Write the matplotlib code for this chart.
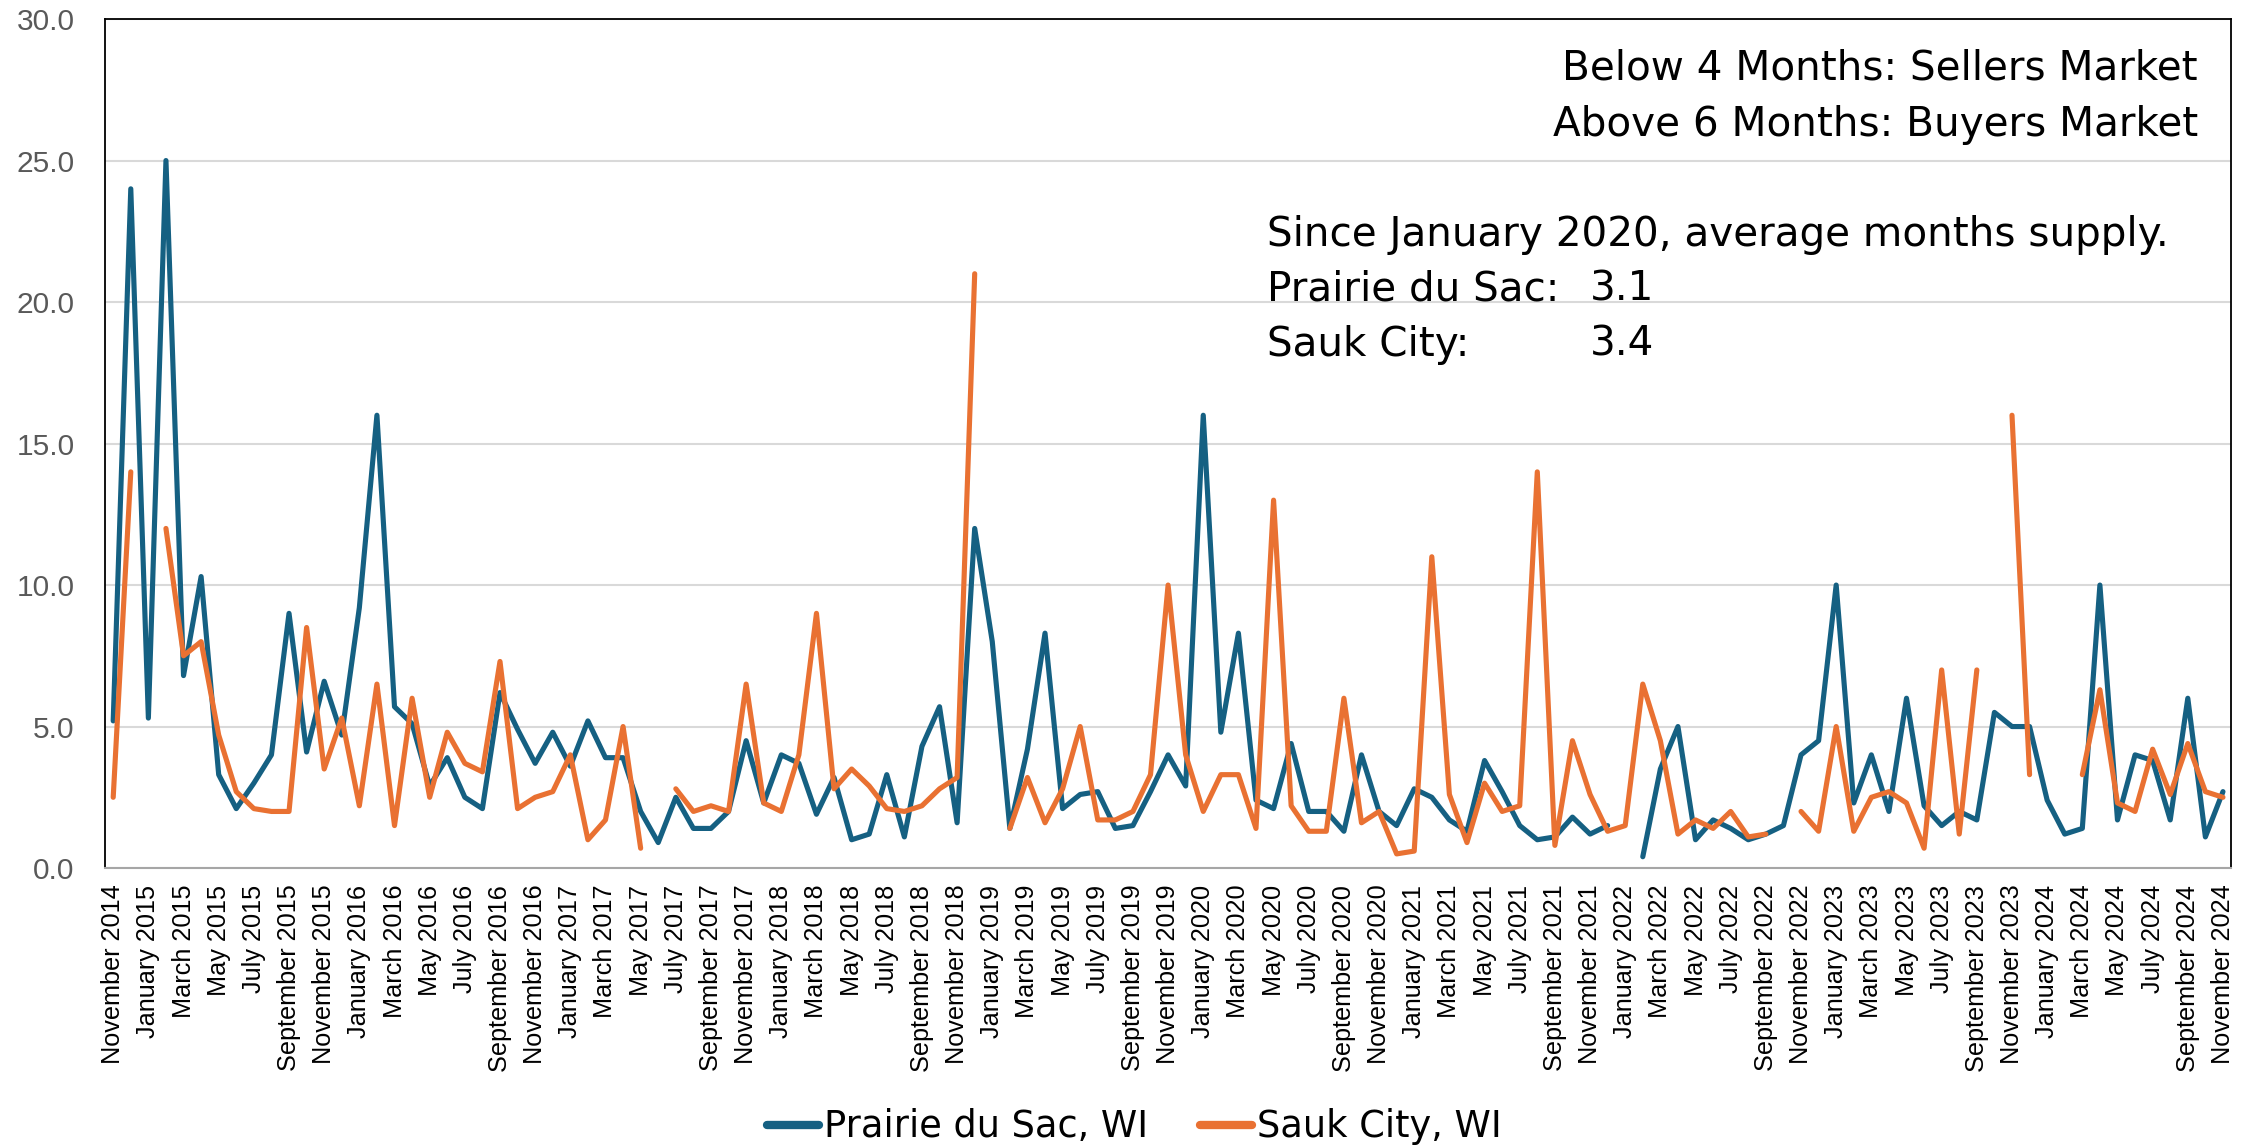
import numpy as np
import pandas as pd
from matplotlib import pyplot as plt

# Months supply, monthly from November 2014 to November 2024 (nan = no data)
months = pd.date_range("2014-11-01", periods=121, freq="MS").strftime("%B %Y").tolist()

prairie_du_sac = [
    5.2, 24.0, 5.3, 25.0, 6.8, 10.3, 3.3, 2.1, 3.0, 4.0,
    9.0, 4.1, 6.6, 4.7, 9.2, 16.0, 5.7, 5.1, 2.9, 3.9,
    2.5, 2.1, 6.2, 4.9, 3.7, 4.8, 3.6, 5.2, 3.9, 3.9,
    2.0, 0.9, 2.5, 1.4, 1.4, 2.0, 4.5, 2.3, 4.0, 3.7,
    1.9, 3.2, 1.0, 1.2, 3.3, 1.1, 4.3, 5.7, 1.6, 12.0,
    8.0, 1.4, 4.2, 8.3, 2.1, 2.6, 2.7, 1.4, 1.5, 2.7,
    4.0, 2.9, 16.0, 4.8, 8.3, 2.4, 2.1, 4.4, 2.0, 2.0,
    1.3, 4.0, 2.0, 1.5, 2.8, 2.5, 1.7, 1.3, 3.8, 2.7,
    1.5, 1.0, 1.1, 1.8, 1.2, 1.5, np.nan, 0.4, 3.5, 5.0,
    1.0, 1.7, 1.4, 1.0, 1.2, 1.5, 4.0, 4.5, 10.0, 2.3,
    4.0, 2.0, 6.0, 2.2, 1.5, 2.0, 1.7, 5.5, 5.0, 5.0,
    2.4, 1.2, 1.4, 10.0, 1.7, 4.0, 3.8, 1.7, 6.0, 1.1,
    2.7,
]

sauk_city = [
    2.5, 14.0, np.nan, 12.0, 7.5, 8.0, 4.7, 2.7, 2.1, 2.0,
    2.0, 8.5, 3.5, 5.3, 2.2, 6.5, 1.5, 6.0, 2.5, 4.8,
    3.7, 3.4, 7.3, 2.1, 2.5, 2.7, 4.0, 1.0, 1.7, 5.0,
    0.7, np.nan, 2.8, 2.0, 2.2, 2.0, 6.5, 2.3, 2.0, 4.0,
    9.0, 2.8, 3.5, 2.9, 2.1, 2.0, 2.2, 2.8, 3.2, 21.0,
    np.nan, 1.4, 3.2, 1.6, 2.8, 5.0, 1.7, 1.7, 2.0, 3.3,
    10.0, 4.0, 2.0, 3.3, 3.3, 1.4, 13.0, 2.2, 1.3, 1.3,
    6.0, 1.6, 2.0, 0.5, 0.6, 11.0, 2.6, 0.9, 3.0, 2.0,
    2.2, 14.0, 0.8, 4.5, 2.6, 1.3, 1.5, 6.5, 4.5, 1.2,
    1.7, 1.4, 2.0, 1.1, 1.2, np.nan, 2.0, 1.3, 5.0, 1.3,
    2.5, 2.7, 2.3, 0.7, 7.0, 1.2, 7.0, np.nan, 16.0, 3.3,
    np.nan, np.nan, 3.3, 6.3, 2.3, 2.0, 4.2, 2.6, 4.4, 2.7,
    2.5,
]

BLUE = "#156082"
ORANGE = "#E97132"

fig = plt.figure(figsize=(22.52, 11.47), dpi=100)
ax = fig.add_axes([0.0466, 0.2432, 0.9441, 0.7402])

x = np.arange(len(months))
ax.plot(x, prairie_du_sac, color=BLUE, lw=3.7, solid_capstyle="round",
        solid_joinstyle="round", label="Prairie du Sac, WI")
ax.plot(x, sauk_city, color=ORANGE, lw=3.7, solid_capstyle="round",
        solid_joinstyle="round", label="Sauk City, WI")

# Axes and grid
ax.set_xlim(-0.47, 120.46)
ax.set_ylim(0, 30)
ax.set_yticks(np.arange(0, 31, 5))
ax.set_yticklabels([f"{v:.1f}" for v in np.arange(0, 31, 5)])
ax.set_xticks(x[::2])
ax.set_xticklabels(months[::2], rotation=90, ha="center", va="top")
ax.grid(axis="y", color="#d9d9d9", lw=1.5)
ax.set_axisbelow(True)
ax.tick_params(axis="y", length=0, pad=22, labelsize=21.5, labelcolor="#595959")
ax.tick_params(axis="x", length=0, pad=12, labelsize=18.2, labelcolor="#000000")
for lbl in ax.get_xticklabels() + ax.get_yticklabels():
    lbl.set_fontfamily("Liberation Sans")

for side in ["left", "top", "right"]:
    ax.spines[side].set_color("#000000")
    ax.spines[side].set_linewidth(1.3)
ax.spines["bottom"].set_color("#a6a6a6")
ax.spines["bottom"].set_linewidth(1.5)

# Annotation text
txt = dict(fontsize=29.2, family="DejaVu Sans", color="#000000", va="center")
fig.text(0.9760, 0.9405, "Below 4 Months: Sellers Market", ha="right", **txt)
fig.text(0.9760, 0.8910, "Above 6 Months: Buyers Market", ha="right", **txt)
fig.text(0.5626, 0.7955, "Since January 2020, average months supply.", ha="left", **txt)
fig.text(0.5626, 0.7475, "Prairie du Sac:", ha="left", **txt)
fig.text(0.7060, 0.7475, "3.1", ha="left", **txt)
fig.text(0.5626, 0.6995, "Sauk City:", ha="left", **txt)
fig.text(0.7060, 0.6995, "3.4", ha="left", **txt)

# Legend
leg = fig.legend(loc="center", bbox_to_anchor=(0.5038, 0.0175), ncol=2,
                 frameon=False, handlelength=1.4, handletextpad=0.15,
                 columnspacing=1.4, borderaxespad=0, borderpad=0,
                 prop={"family": "DejaVu Sans", "size": 26.5})
for line in leg.get_lines():
    line.set_linewidth(6)

fig.savefig("out.png", dpi=100)
